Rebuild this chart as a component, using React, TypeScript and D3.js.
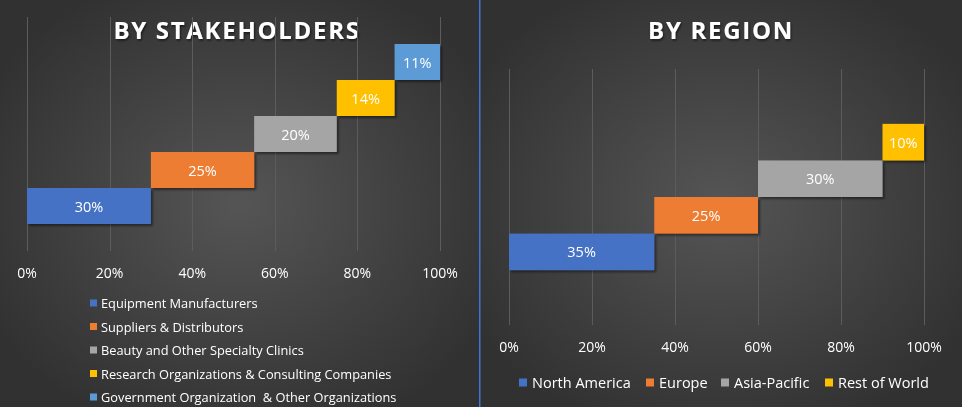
import React from 'react';
import * as d3 from 'd3';

const stakeholderCategories = [
    'Equipment Manufacturers',
    'Suppliers & Distributors',
    'Beauty and Other Specialty Clinics',
    'Research Organizations & Consulting Companies',
    'Government Organization  & Other Organizations'
];
const stakeholderValues = [30, 25, 20, 14, 11];
const stakeholderColors = ['#4472C4', '#ED7D31', '#A5A5A5', '#FFC000', '#5B9BD5'];

const regionCategories = ['North America', 'Europe', 'Asia-Pacific', 'Rest of World'];
const regionValues = [35, 25, 30, 10];
const regionColors = ['#4472C4', '#ED7D31', '#A5A5A5', '#FFC000'];

const tickValues = [0, 20, 40, 60, 80, 100];

const FONT = "'Open Sans', 'Noto Sans', sans-serif";

interface WaterfallProps {
    categories: string[];
    values: number[];
    colors: string[];
    xRange: [number, number];
    yRange: [number, number];
    outerPad: number;
    tickY: number;
}

// stacked "waterfall" bars: each category starts where the previous one ends
const Waterfall: React.FC<WaterfallProps> = ({ categories, values, colors, xRange, yRange, outerPad, tickY }) => {
    const x = d3.scaleLinear().domain([0, 100]).range(xRange);
    const y = d3.scaleBand<string>()
        .domain([...categories].reverse())
        .range(yRange)
        .paddingInner(0)
        .paddingOuter(outerPad);
    const starts = [0, ...Array.from(d3.cumsum(values)).slice(0, -1)];

    return (
        <g>
            {/* gridlines */}
            {tickValues.map(t => (
                <line key={t} x1={Math.round(x(t)) + 0.5} x2={Math.round(x(t)) + 0.5} y1={yRange[0]} y2={yRange[1]}
                    stroke="#5c5c5c" strokeWidth={1} />
            ))}
            {/* bars */}
            {categories.map((c, i) => (
                <rect key={c}
                    x={x(starts[i])}
                    y={y(c)}
                    width={x(starts[i] + values[i]) - x(starts[i])}
                    height={y.bandwidth()}
                    fill={colors[i]}
                    filter="url(#barShadow)" />
            ))}
            {categories.map((c, i) => (
                <text key={c + '-lbl'}
                    x={(x(starts[i]) + x(starts[i] + values[i])) / 2}
                    y={(y(c) ?? 0) + y.bandwidth() / 2}
                    textAnchor="middle" dominantBaseline="central"
                    fill="#ffffff" fontSize={14.5} fontFamily={FONT}>
                    {values[i]}%
                </text>
            ))}
            {/* tick labels */}
            {tickValues.map(t => (
                <text key={'t' + t} x={x(t)} y={tickY} textAnchor="middle"
                    fill="#ffffff" fontSize={14} fontFamily={FONT}>
                    {t}%
                </text>
            ))}
        </g>
    );
};

export default function App() {
    const width = 962;
    const height = 407;
    const regionLegendX = [519, 646, 721, 825];

    return (
        <div style={{ position: 'fixed', left: 0, top: 0 }}>
            <svg width={width} height={height} style={{ display: 'block' }}>
                <defs>
                    <radialGradient id="bgLeft" cx="50%" cy="50%" r="60%">
                        <stop offset="0%" stopColor="#555555" />
                        <stop offset="100%" stopColor="#313131" />
                    </radialGradient>
                    <radialGradient id="bgRight" cx="50%" cy="50%" r="60%">
                        <stop offset="0%" stopColor="#555555" />
                        <stop offset="100%" stopColor="#313131" />
                    </radialGradient>
                    <filter id="barShadow" x="-10%" y="-10%" width="130%" height="140%">
                        <feDropShadow dx={2} dy={2} stdDeviation={1.2} floodColor="#000" floodOpacity={0.45} />
                    </filter>
                    <filter id="textShadow" x="-10%" y="-30%" width="120%" height="160%">
                        <feDropShadow dx={1} dy={1.5} stdDeviation={1} floodColor="#000" floodOpacity={0.6} />
                    </filter>
                </defs>

                <rect x={0} y={0} width={479} height={height} fill="url(#bgLeft)" />
                <rect x={480} y={0} width={482} height={height} fill="url(#bgRight)" />
                <rect x={479} y={0} width={1.5} height={height} fill="#3F74D6" />

                {/* left panel */}
                <text x={237} y={39} textAnchor="middle" fill="#ffffff" fontSize={24}
                    fontWeight="bold" fontFamily={FONT} letterSpacing={1.7} filter="url(#textShadow)">
                    BY STAKEHOLDERS
                </text>
                <Waterfall categories={stakeholderCategories} values={stakeholderValues}
                    colors={stakeholderColors} xRange={[27, 440]} yRange={[17, 251]}
                    outerPad={0.75} tickY={278} />
                {stakeholderCategories.map((c, i) => (
                    <g key={c} transform={`translate(90, ${303 + i * 23.5})`}>
                        <rect x={0} y={-3.5} width={7} height={7} fill={stakeholderColors[i]} />
                        <text x={11} y={0} dominantBaseline="central" fill="#ffffff"
                            fontSize={12.8} fontFamily={FONT} style={{ whiteSpace: 'pre' }}>
                            {c}
                        </text>
                    </g>
                ))}

                {/* right panel */}
                <text x={721} y={39} textAnchor="middle" fill="#ffffff" fontSize={24}
                    fontWeight="bold" fontFamily={FONT} letterSpacing={1.7} filter="url(#textShadow)">
                    BY REGION
                </text>
                <Waterfall categories={regionCategories} values={regionValues}
                    colors={regionColors} xRange={[509, 924]} yRange={[69, 325]}
                    outerPad={1.5} tickY={352} />
                {regionCategories.map((c, i) => (
                    <g key={c} transform={`translate(${regionLegendX[i]}, 382.5)`}>
                        <rect x={0} y={-4} width={8} height={8} fill={regionColors[i]} />
                        <text x={13} y={0} dominantBaseline="central" fill="#ffffff"
                            fontSize={14.5} fontFamily={FONT}>
                            {c}
                        </text>
                    </g>
                ))}
            </svg>
        </div>
    );
}
